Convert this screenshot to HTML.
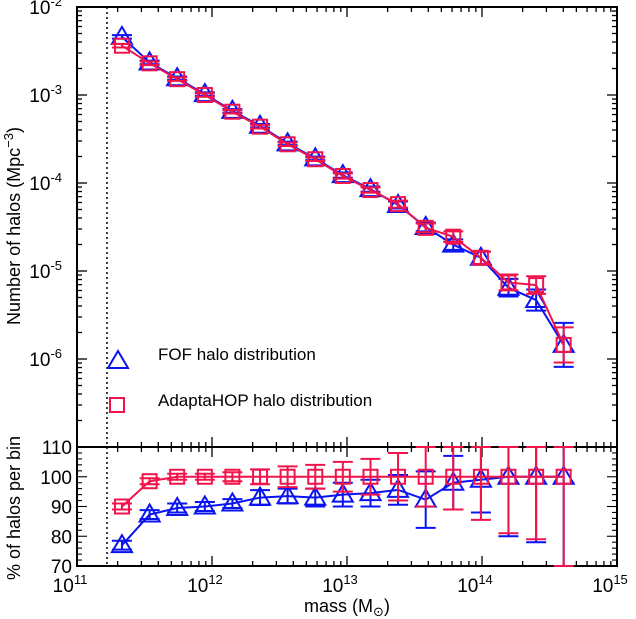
<!DOCTYPE html>
<html><head><meta charset="utf-8"><style>
body{margin:0;background:#fff}
svg{display:block;font-family:"Liberation Sans","DejaVu Sans",sans-serif}
</style></head><body>
<svg id="c" width="636" height="619"></svg>
<script>
const logMass=[11.333,11.538,11.742,11.947,12.151,12.356,12.560,12.765,12.969,13.174,13.378,13.583,13.787,13.992,14.196,14.401,14.605];
const fofLogN=[-2.34,-2.63,-2.81,-2.99,-3.18,-3.35,-3.55,-3.72,-3.91,-4.07,-4.25,-4.50,-4.70,-4.85,-5.19,-5.33,-5.84];
const hopLogN=[-2.44,-2.64,-2.82,-3.00,-3.19,-3.36,-3.56,-3.73,-3.92,-4.08,-4.24,-4.51,-4.61,-4.85,-5.13,-5.16,-5.84];
const fofErrDex=[0.02,0.02,0.02,0.02,0.02,0.02,0.02,0.02,0.03,0.03,0.04,0.05,0.06,0.07,0.1,0.12,0.25];
const hopErrDex=[0.02,0.02,0.02,0.02,0.02,0.02,0.02,0.02,0.03,0.03,0.04,0.05,0.06,0.07,0.09,0.1,0.2];
const fofPct=[77,87.3,89.5,90,91,93,93.5,93,94,94.5,95.6,92.3,98,99,100,100,100];
const hopPct=[90,98.5,100,100,100,100,100,100,100,100,100,100,100,100,100,100,100];
const fofPctErr=[1.5,1.5,1.5,1.5,1.5,2.5,2.5,3,4,4.5,5,9.5,9,11,20,22,40];
const hopPctErr=[1,1,1,1,1.5,2.5,3.5,4,5,6,8,10,11,14.5,19,21,40];
const xTicks=[11,12,13,14,15];
const yTopTicks=[-2,-3,-4,-5,-6];
const yBotTicks=[70,80,90,100,110];

const L=77,R=617,T=7,MID=447,B=566;
const X=lm=>L+(lm-11)*(R-L)/4;
const Y1=ln=>T+(-2-ln)*(MID-T)/5;
const Y2=p=>MID+(110-p)*(B-MID)/40;
const svg=document.getElementById('c');
const NS='http://www.w3.org/2000/svg';
function mk(tag,at,parent){const e=document.createElementNS(NS,tag);for(const k in at)e.setAttribute(k,at[k]);(parent||svg).appendChild(e);return e;}
const BLUE='#0a14f0',RED='#f0144b';

const f1=mk('rect',{x:L,y:T,width:R-L,height:MID-T,fill:'none',stroke:'#000','stroke-width':2});


const f2=mk('rect',{x:L,y:MID,width:R-L,height:B-MID,fill:'none',stroke:'#000','stroke-width':2});



for(let d=11;d<15;d++){for(let k=1;k<10;k++){const x=X(d+Math.log10(k));const len=k==1?10:5;
 if(k==1&&d==11)continue;
 [[T,T+len],[MID,MID-len],[MID,MID+len],[B,B-len]].forEach(p=>mk('line',{x1:x,x2:x,y1:p[0],y2:p[1],stroke:'#000','stroke-width':1.3}));}}
xTicks.forEach(d=>{const t=mk('text',{x:X(d)-7,y:592,'font-size':19,'text-anchor':'middle'});
 
 
 t.innerHTML='10<tspan dy="-8" font-size="13">'+d+'</tspan>';});
for(let d=-7;d<-2;d++){for(let k=1;k<10;k++){const y=Y1(d+Math.log10(k));const len=k==1?10:5;
 if(d==-7&&k==1)continue;
 [[L,L+len],[R,R-len]].forEach(p=>mk('line',{x1:p[0],x2:p[1],y1:y,y2:y,stroke:'#000','stroke-width':1.3}));}}
yTopTicks.forEach(d=>{const t=mk('text',{x:62,y:Y1(d)+7,'font-size':19,'text-anchor':'end'});
 
 
 t.innerHTML='10<tspan dy="-8" font-size="13">'+d+'</tspan>';});
for(let p=70;p<=110;p+=2){const y=Y2(p);const len=p%10==0?10:5;
 [[L,L+len],[R,R-len]].forEach(q=>mk('line',{x1:q[0],x2:q[1],y1:y,y2:y,stroke:'#000','stroke-width':1.1}));}
yBotTicks.forEach(p=>{const t=mk('text',{x:72,y:Y2(p)+7,'font-size':19,'text-anchor':'end'});
 
 
 t.textContent=p;});

const dl=mk('line',{x1:107,x2:107,y1:T,y2:B,stroke:'#000','stroke-width':1.5,'stroke-dasharray':'2,3'});



function tri(x,y,c){const s=10;return mk('polygon',{points:`${x},${y-s} ${x-s},${y+7} ${x+s},${y+7}`,fill:'none',stroke:c,'stroke-width':2});}
function sq(x,y,c){return mk('rect',{x:x-7,y:y-7,width:14,height:14,fill:'none',stroke:c,'stroke-width':2});}
function eb(x,y1,y2,c){mk('line',{x1:x,x2:x,y1:y1,y2:y2,stroke:c,'stroke-width':2});
 mk('line',{x1:x-10,x2:x+10,y1:y1,y2:y1,stroke:c,'stroke-width':2});mk('line',{x1:x-10,x2:x+10,y1:y2,y2:y2,stroke:c,'stroke-width':2});}

function series(vals,errs,Yf,c,shape,name,clipB){
 const pts=logMass.map((m,i)=>X(m)+','+Yf(vals[i])).join(' ');
 const pl=mk('polyline',{points:pts,fill:'none',stroke:c,'stroke-width':2});
 
 
 logMass.forEach((m,i)=>{const x=X(m),y=Yf(vals[i]);
  let ya,yb;
  if(clipB){ya=Math.max(MID,Yf(vals[i]+errs[i]));yb=Math.min(B,Yf(vals[i]-errs[i]));}
  else{ya=Yf(vals[i]+errs[i]);yb=Yf(vals[i]-errs[i]);}
  eb(x,ya,yb,c);
  const s=shape(x,y,c);
  
  });
}
series(fofLogN,fofErrDex,Y1,BLUE,tri,'fof-top',false);
series(hopLogN,hopErrDex,Y1,RED,sq,'hop-top',false);
series(fofPct,fofPctErr,Y2,BLUE,tri,'fof-pct',true);
series(hopPct,hopPctErr,Y2,RED,sq,'hop-pct',true);

const lt=tri(118,361,BLUE);
const ls=sq(117,405,RED);
const l1=mk('text',{x:158,y:360,'font-size':17});l1.textContent='FOF halo distribution';

const l2=mk('text',{x:158,y:406,'font-size':17});l2.textContent='AdaptaHOP halo distribution';


const yt=mk('text',{x:0,y:0,'font-size':18,'text-anchor':'middle',transform:'translate(20,226) rotate(-90)'});
yt.innerHTML='Number of halos (Mpc<tspan dy="-7" font-size="13">−3</tspan><tspan dy="7">)</tspan>';

const yb=mk('text',{x:0,y:0,'font-size':18,'text-anchor':'middle',transform:'translate(20,508) rotate(-90)'});
yb.textContent='% of halos per bin';

const xt=mk('text',{x:347,y:612,'font-size':18,'text-anchor':'middle'});
xt.innerHTML='mass (M<tspan dy="4" font-size="13">⊙</tspan><tspan dy="-4">)</tspan>';

</script>
</body></html>
